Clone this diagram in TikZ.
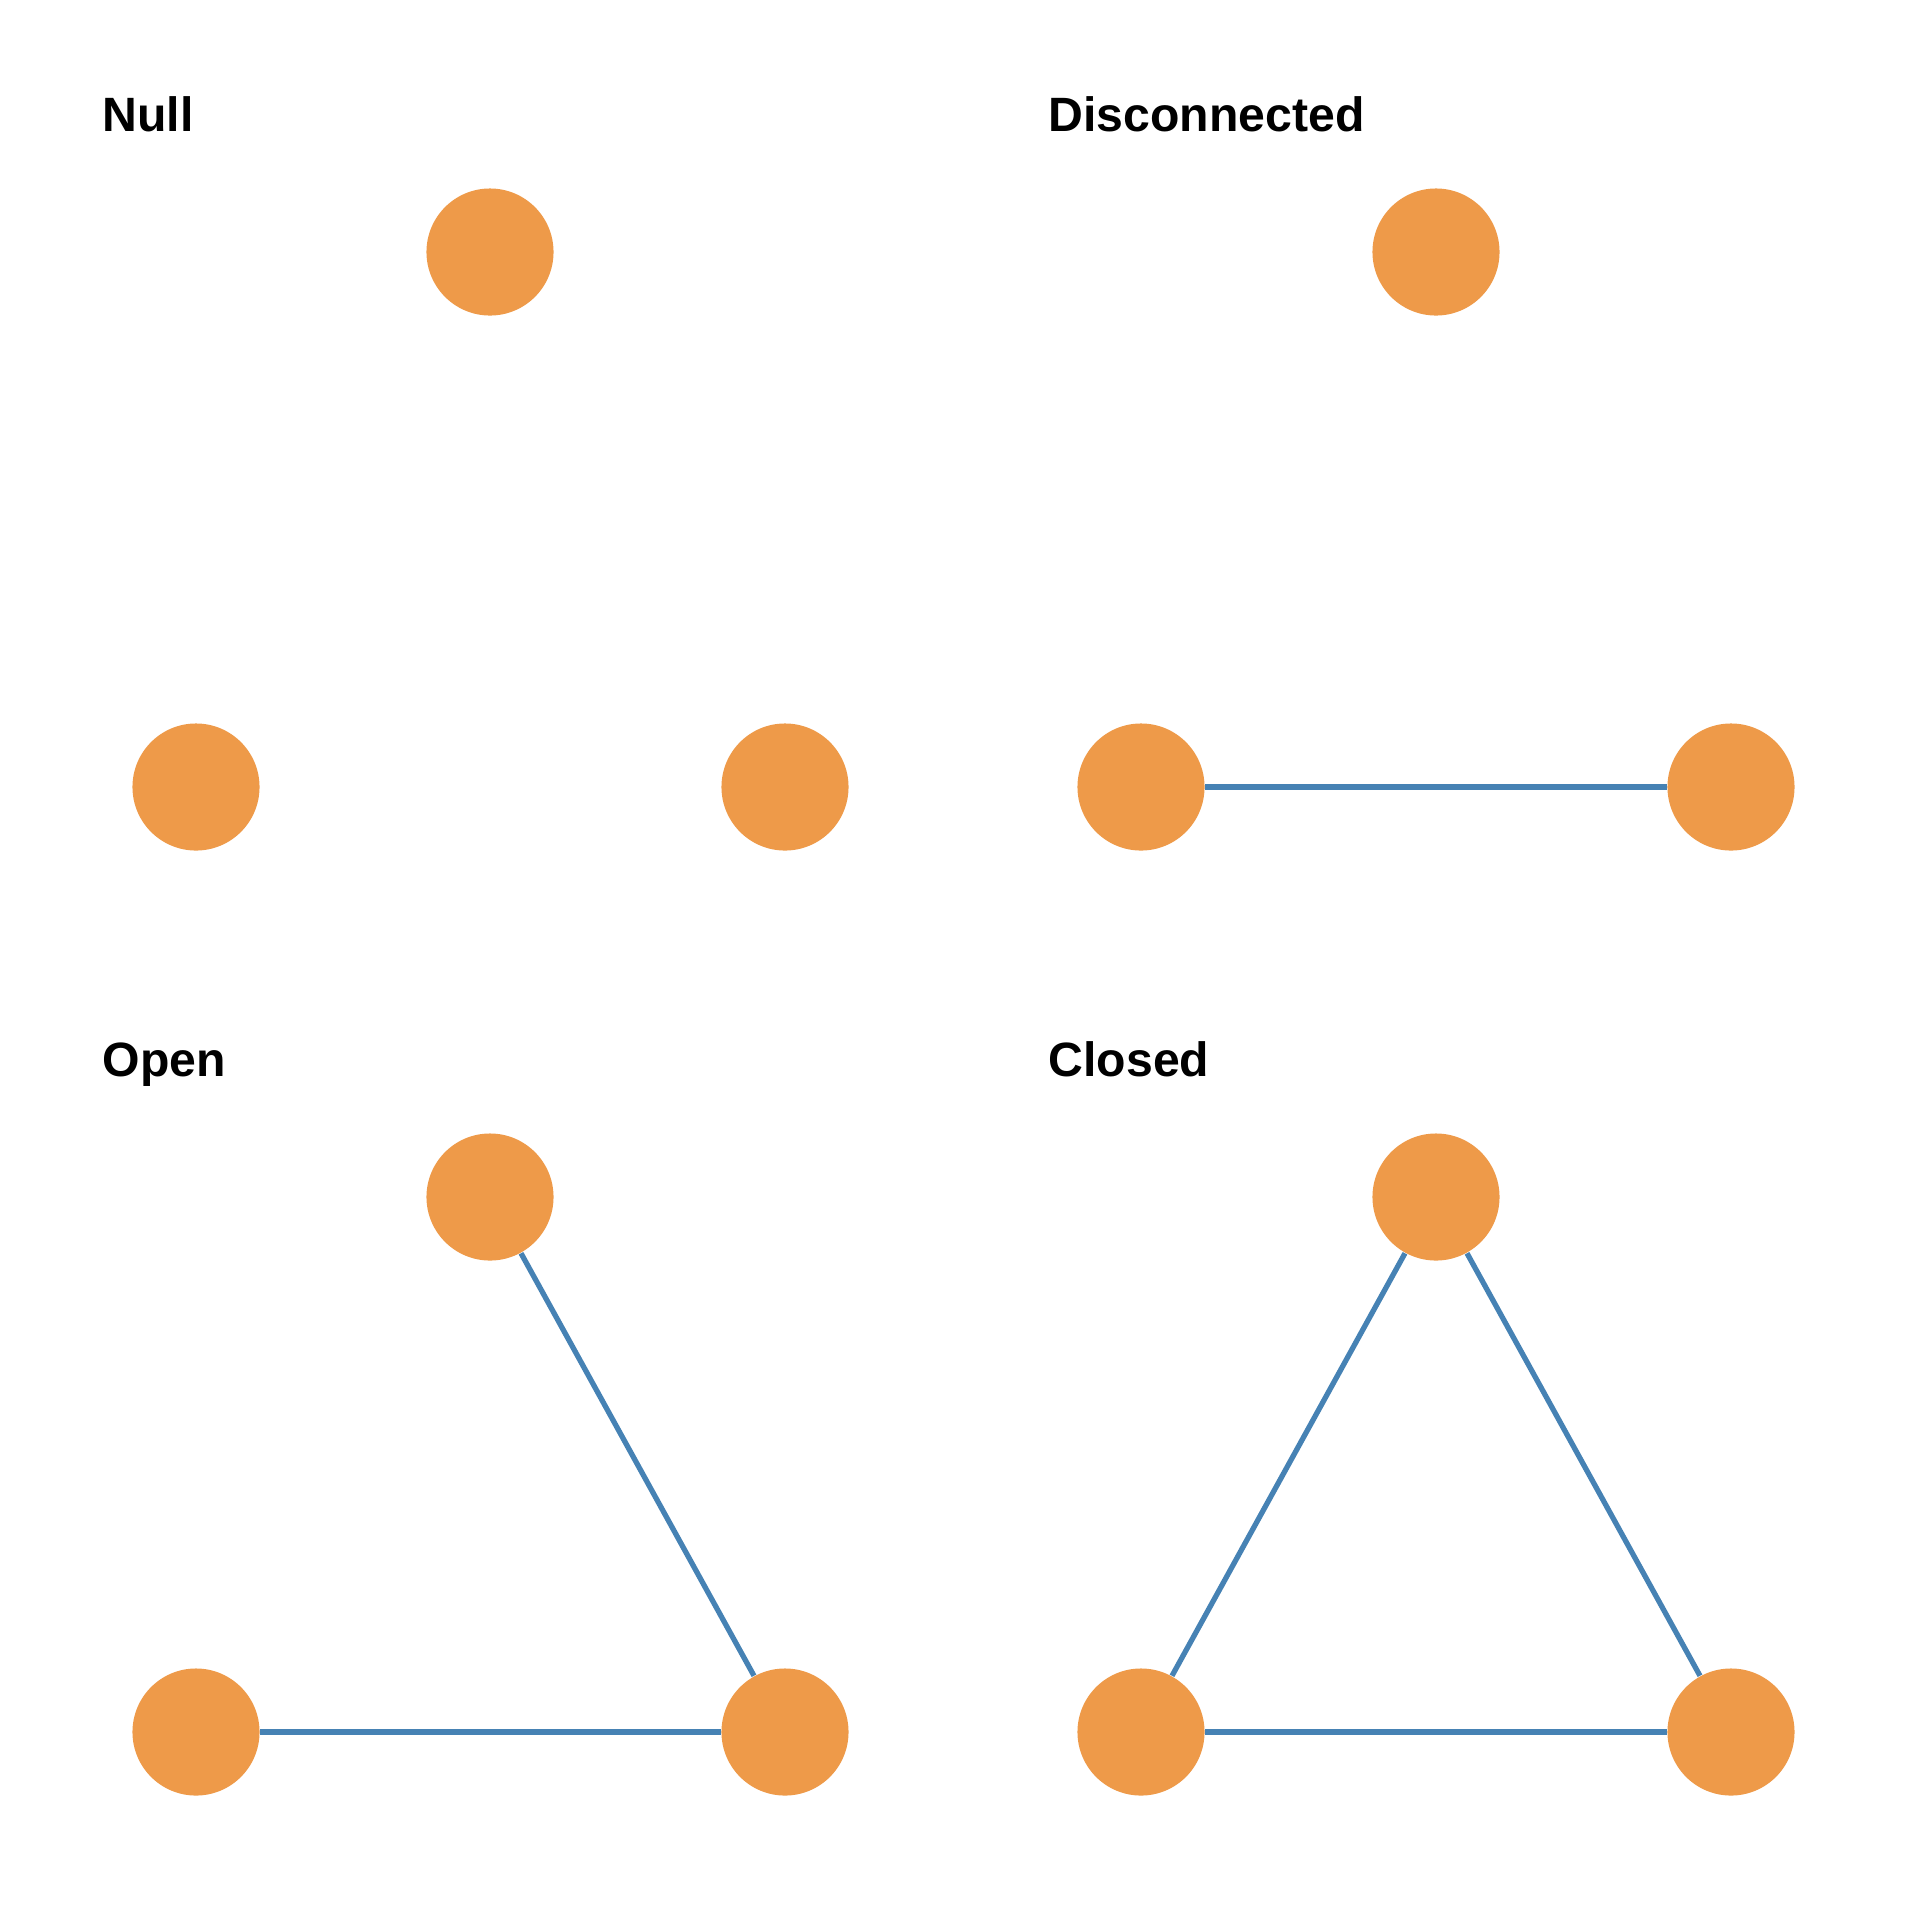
\documentclass[tikz,border=0pt]{standalone}
\usepackage{fontspec}
\setsansfont{Liberation Sans}
\usepackage{xcolor}
\usepackage{tikz}
\definecolor{VERTEX}{HTML}{EE9A49}
\definecolor{TIE}{HTML}{4682B4}
\definecolor{INK}{HTML}{000000}

\begin{document}
\begin{tikzpicture}[
  x=0.01cm, y=-0.01cm,
  font=\sffamily,
  vertex/.style={circle, fill=VERTEX, draw=none, minimum size=1.27cm, inner sep=0pt},
  tie/.style={draw=TIE, line width=1.5pt},
  title/.style={anchor=base west, inner sep=0pt, text=INK, font=\sffamily\bfseries\fontsize{13.7}{16}\selectfont}
]
\useasboundingbox[fill=white] (0,0) rectangle (1920,1920);

% titles
\node[title] (tnull) at (102,131) {Null};
\node[title] (tdisc) at (1048,131) {Disconnected};
\node[title] (topen) at (102,1076) {Open};
\node[title] (tclosed) at (1048,1076) {Closed};

% null triad
\node[vertex] (n1) at (490,252) {};
\node[vertex] (n2) at (196,787) {};
\node[vertex] (n3) at (785,787) {};

% disconnected triad
\node[vertex] (d1) at (1436,252) {};
\node[vertex] (d2) at (1141,787) {};
\node[vertex] (d3) at (1731,787) {};
\draw[tie] (d2) -- (d3);

% open triad
\node[vertex] (o1) at (490,1197) {};
\node[vertex] (o2) at (196,1732) {};
\node[vertex] (o3) at (785,1732) {};
\draw[tie] (o1) -- (o3);
\draw[tie] (o2) -- (o3);

% closed triad
\node[vertex] (c1) at (1436,1197) {};
\node[vertex] (c2) at (1141,1732) {};
\node[vertex] (c3) at (1731,1732) {};
\draw[tie] (c1) -- (c2);
\draw[tie] (c1) -- (c3);
\draw[tie] (c2) -- (c3);

\end{tikzpicture}
\end{document}
